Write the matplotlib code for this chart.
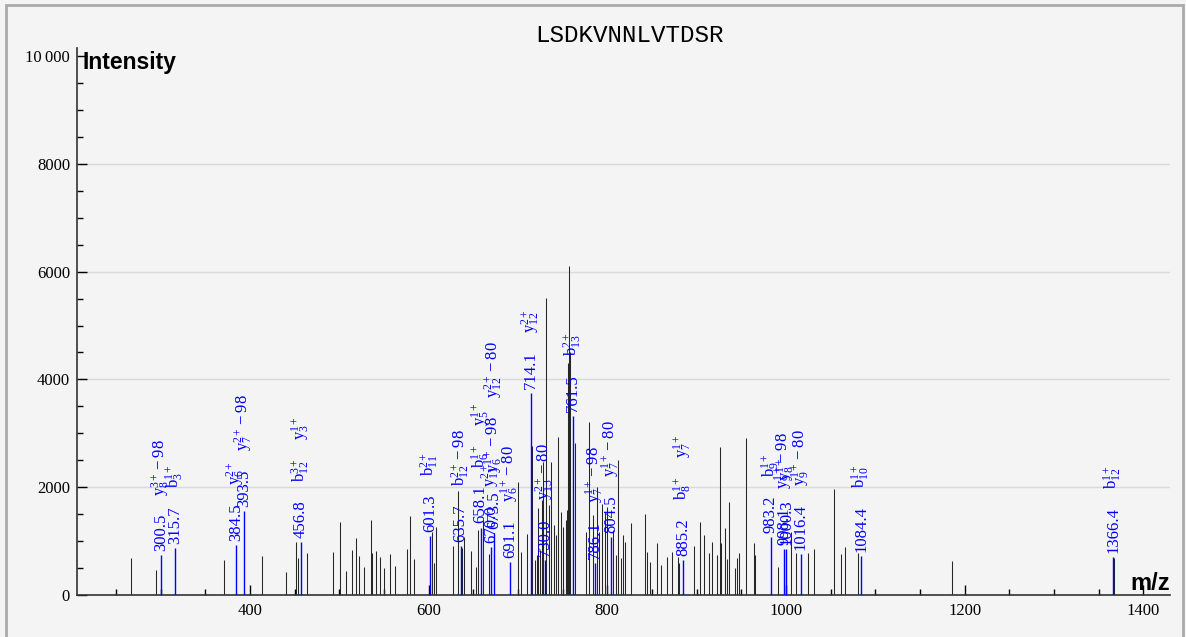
import matplotlib
matplotlib.use("Agg")
import matplotlib.pyplot as plt
from matplotlib.ticker import MultipleLocator, FuncFormatter
from matplotlib.patches import Rectangle

plt.rcParams["mathtext.fontset"] = "custom"
plt.rcParams["mathtext.rm"] = "Liberation Serif"
plt.rcParams["mathtext.it"] = "Liberation Serif:italic"
plt.rcParams["mathtext.bf"] = "Liberation Serif:bold"

peptide = "LSDKVNNLVTDSR"

# unassigned peaks (m/z, intensity)
peak_mz = [266.7, 295.0, 370.9, 413.0, 440.0, 451.0, 453.4, 463.5, 493.0, 500.4,
           507.0, 514.0, 518.4, 522.4, 527.3, 535.0, 537.0, 541.5, 545.6, 550.4,
           556.4, 562.7, 576.0, 579.0, 583.3, 604.0, 606.4, 608.3, 627.7, 632.6,
           637.8, 640.0, 647.0, 652.7, 655.6, 661.0, 667.7, 700.5, 703.0, 710.5,
           715.4, 719.0, 721.0, 722.8, 724.7, 726.6, 728.4, 731.0, 734.8, 736.7,
           740.4, 742.3, 745.3, 748.0, 750.8, 753.5, 754.5, 755.9, 757.2, 758.8,
           763.3, 776.3, 780.0, 784.3, 789.0, 790.8, 794.5, 797.0, 799.4, 806.7,
           809.9, 812.4, 815.0, 817.2, 820.2, 826.6, 842.3, 845.0, 848.0, 855.4,
           860.0, 866.6, 872.9, 878.7, 880.5, 897.5, 904.2, 908.7, 914.3, 917.4,
           922.6, 926.0, 927.4, 932.0, 934.5, 936.3, 943.0, 945.0, 948.0, 955.4,
           964.4, 965.8, 991.6, 1005.5, 1011.6, 1024.4, 1031.6, 1053.6, 1061.4, 1066.6,
           1080.5, 1185.8, 1367.0]
peak_int = [690, 465, 650, 725, 425, 985, 690, 780, 800, 1355,
            445, 835, 1060, 725, 520, 1390, 780, 815, 705, 500,
            760, 540, 855, 1465, 670, 1170, 590, 1260, 910, 1930,
            870, 1075, 815, 520, 1210, 1390, 760, 2100, 800, 1130,
            2765, 650, 740, 1615, 835, 1760, 2470, 5510, 1670, 2470,
            1300, 1110, 2930, 1540, 1260, 1390, 1580, 4300, 6110, 4500,
            2820, 1170, 3210, 1485, 2005, 1170, 1690, 1520, 1630, 1200,
            740, 2510, 690, 1115, 985, 1335, 1500, 800, 610, 965,
            555, 705, 800, 705, 590, 910, 1355, 1115, 780, 985,
            740, 2750, 965, 1245, 670, 1725, 500, 690, 780, 2910,
            965, 740, 520, 1170, 780, 780, 855, 1965, 760, 890,
            780, 630, 680]

# assigned fragment ions
ion_mz = [300.5, 315.7, 384.5, 393.5, 456.8, 601.3, 635.7, 658.1, 670.0, 673.5,
          691.1, 714.1, 730.0, 761.5, 786.1, 804.5, 885.2, 983.2, 998.1, 1000.3,
          1016.4, 1084.4, 1366.4]
ion_int = [740, 870, 930, 1560, 980, 1100, 910, 1250, 890, 1150,
           610, 3750, 650, 3320, 590, 1075, 650, 1075, 850, 850,
           760, 720, 700]
ion_text = ["300.5", "315.7", "384.5", "393.5", "456.8", "601.3", "635.7", "658.1", "670.0", "673.5",
            "691.1", "714.1", "730.0", "761.5", "786.1", "804.5", "885.2", "983.2", "998.1", "1000.3",
            "1016.4", "1084.4", "1366.4"]
# (ion type, index, charge, neutral loss)
ion_names = [
    [("y", "8", "3+", "-98")],
    [("b", "3", "1+", "")],
    [("y", "6", "2+", "")],
    [("y", "7", "2+", "-98")],
    [("b", "12", "3+", ""), ("y", "3", "1+", "")],
    [("b", "11", "2+", "")],
    [("b", "12", "2+", "-98")],
    [("b", "6", "1+", ""), ("y", "5", "1+", "")],
    [("y", "11", "2+", "")],
    [("y", "6", "1+", "-98"), ("y", "12", "2+", "-80")],
    [("y", "6", "1+", "-80")],
    [("y", "12", "2+", "")],
    [("y", "13", "2+", "-80")],
    [("b", "13", "2+", "")],
    [("y", "7", "1+", "-98")],
    [("y", "7", "1+", "-80")],
    [("b", "8", "1+", ""), ("y", "7", "1+", "")],
    [("b", "9", "1+", "")],
    [("y", "9", "1+", "-98")],
    [("y", "8", "1+", "")],
    [("y", "9", "1+", "-80")],
    [("b", "10", "1+", "")],
    [("b", "12", "1+", "")],
]

W, H = 1186, 637
fig = plt.figure(figsize=(W / 100, H / 100), dpi=100, facecolor="#f4f4f4")
ax = fig.add_axes([77 / W, 1 - 595 / H, (1170 - 77) / W, (595 - 48) / H])
ax.set_facecolor("#f4f4f4")

ax.set_xlim(206.3, 1430)
ax.set_ylim(0, 10150)

for g in [2000, 4000, 6000, 8000]:
    ax.axhline(g, color="#dadada", lw=1, zorder=0)

ax.vlines(peak_mz, 0, peak_int, color="#262626", lw=0.75, zorder=2)
ax.vlines(ion_mz, 0, ion_int, color="blue", lw=1.0, zorder=3)

lbl_font = dict(family="Liberation Serif", fontsize=12, color="blue")
for mz, inten, txt, names in zip(ion_mz, ion_int, ion_text, ion_names):
    prev = ax.annotate(txt, xy=(mz, inten), xytext=(0, 3), textcoords="offset points",
                       rotation=90, ha="center", va="bottom", **lbl_font)
    for t, sub, sup, loss in names:
        s = r"$\mathrm{%s}_{%s}^{%s}%s$" % (t, sub, sup, loss)
        prev = ax.annotate(s, xy=(0.5, 1), xycoords=prev, xytext=(0, 13),
                           textcoords="offset points", rotation=90,
                           ha="center", va="bottom", **lbl_font)

for side in ["top", "right"]:
    ax.spines[side].set_visible(False)
for side in ["left", "bottom"]:
    ax.spines[side].set_color("#333333")
    ax.spines[side].set_linewidth(1.2)

ax.xaxis.set_major_locator(MultipleLocator(200))
ax.xaxis.set_minor_locator(MultipleLocator(50))
ax.yaxis.set_major_locator(MultipleLocator(2000))
ax.yaxis.set_minor_locator(MultipleLocator(500))
ax.tick_params(which="major", direction="in", length=7.5, width=1, colors="black")
ax.tick_params(which="minor", direction="in", length=4.5, width=1, colors="black")
ax.tick_params(axis="x", which="major", pad=6)
ax.tick_params(axis="y", which="major", pad=5)
ax.yaxis.set_major_formatter(FuncFormatter(
    lambda v, p: "10\u2009000" if v >= 10000 else "%d" % v))
for lab in ax.get_xticklabels() + ax.get_yticklabels():
    lab.set_family("Liberation Serif")
    lab.set_fontsize(12)

fig.text(82 / W, 1 - 69 / H, "Intensity", family="Liberation Sans", fontweight="bold",
         fontsize=16.5, va="baseline", ha="left")
fig.text(1170 / W, 1 - 590 / H, "m/z", family="Liberation Sans", fontweight="bold",
         fontsize=17, va="baseline", ha="right")
fig.text(630 / W, 1 - 35 / H, peptide, family="Liberation Mono", fontsize=17.5,
         ha="center", va="center")

# outer frame
fig.patches.append(Rectangle((6 / W, -0.05), (1183 - 6) / W, 1.05 - 5 / H,
                             transform=fig.transFigure, fill=False,
                             edgecolor="#aaaaaa", lw=2))

fig.savefig("out.png", dpi=100, facecolor=fig.get_facecolor())
